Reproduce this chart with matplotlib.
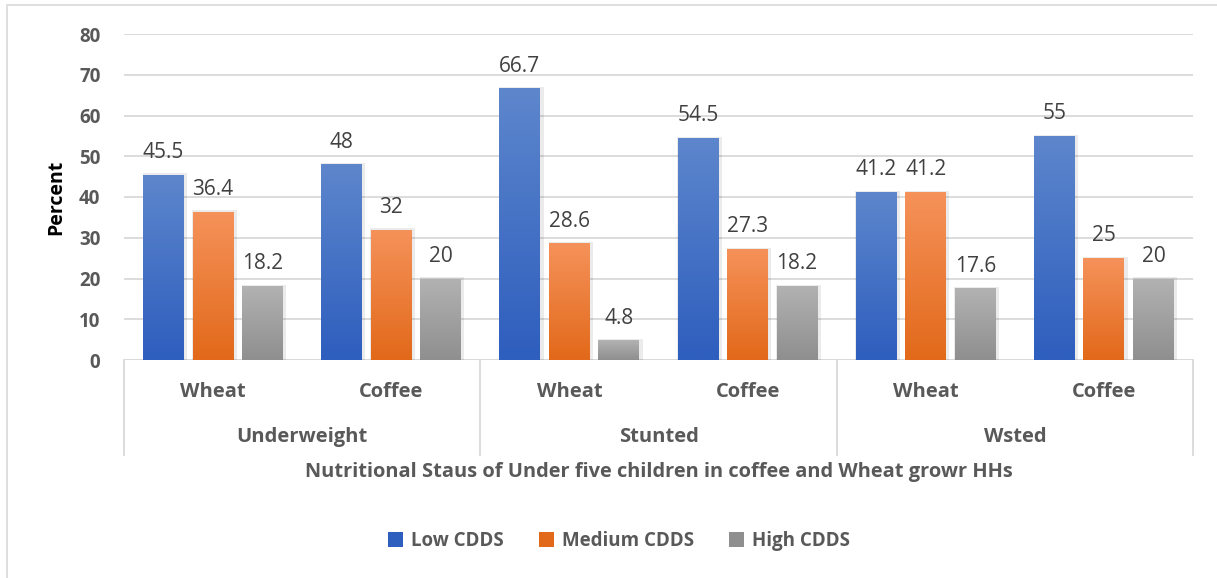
import numpy as np
import matplotlib.pyplot as plt
from matplotlib.colors import LinearSegmentedColormap
from matplotlib.patches import Rectangle

plt.rcParams['font.family'] = ['Open Sans', 'DejaVu Sans']

groups = ['Underweight', 'Stunted', 'Wsted']
crops = ['Wheat', 'Coffee', 'Wheat', 'Coffee', 'Wheat', 'Coffee']
series = ['Low CDDS', 'Medium CDDS', 'High CDDS']
low = [45.5, 48, 66.7, 54.5, 41.2, 55]
medium = [36.4, 32, 28.6, 27.3, 41.2, 25]
high = [18.2, 20, 4.8, 18.2, 17.6, 20]

# top / bottom colours of each series gradient
grads = [('#5D86CC', '#2E5EBE'), ('#F5925A', '#E2691A'), ('#B2B2B2', '#8F8F8F')]
txt = '#595959'

fig = plt.figure(figsize=(12.17, 5.78), dpi=100)
ax = fig.add_axes([124/1217, 1-360/578, (1193-124)/1217, 326/578])

# thin frame round the whole chart
fig.patches.append(Rectangle((7/1217, -0.01), 1.02, 1-5/578+0.01, transform=fig.transFigure,
                             fill=False, edgecolor='#D9D9D9', lw=1.2, zorder=0))

x = np.arange(len(crops))
w = 0.23
step = 0.278
for i, (vals, (c_top, c_bot)) in enumerate(zip([low, medium, high], grads)):
    pos = x + (i-1)*step
    bars = ax.bar(pos, vals, w, color=c_bot, label=series[i], zorder=3)
    cmap = LinearSegmentedColormap.from_list('g%d' % i, [c_bot, c_top])
    for b, v in zip(bars, vals):
        # soft shadow behind the bar
        ax.bar(b.get_x()+b.get_width()/2+0.008, v+0.3, w+0.02, color='#000000', alpha=0.08, zorder=2)
        im = ax.imshow(np.linspace(0, 1, 100).reshape(-1, 1), cmap=cmap, aspect='auto',
                       extent=[b.get_x(), b.get_x()+b.get_width(), 0, v], origin='lower', zorder=3)
        im.set_clip_path(b)
        ax.annotate('%g' % v, (b.get_x()+b.get_width()/2, v), xytext=(0, 12),
                    textcoords='offset points', ha='center', va='baseline',
                    fontsize=15, color='#404040')

ax.set_xlim(-0.5, 5.5)
ax.set_ylim(0, 80)
ax.set_yticks(range(0, 81, 10))
ax.grid(axis='y', color='#D9D9D9', lw=1.3, zorder=0)
for s in ax.spines.values():
    s.set_visible(False)
ax.axhline(0, color='#D9D9D9', lw=1.3, zorder=1)
ax.tick_params(axis='y', length=0, pad=17, labelsize=13.5, labelcolor=txt)
for t in ax.get_yticklabels():
    t.set_fontweight('bold')
ax.set_xticks(x)
ax.set_xticklabels(crops, fontsize=14.5, fontweight='bold', color=txt)
ax.tick_params(axis='x', length=0, pad=16)

# second level of the category axis
trans = ax.get_xaxis_transform()
for xs in [-0.5, 1.5, 3.5, 5.5]:
    ax.plot([xs, xs], [0, -0.29], color='#D9D9D9', lw=1.3, transform=trans, clip_on=False)
for k, g in enumerate(groups):
    ax.text(2*k+0.5, -0.237, g, transform=trans, ha='center', va='center',
            fontsize=14.5, fontweight='bold', color=txt)

ax.set_ylabel('Percent', fontsize=14, fontweight='bold', color='black', labelpad=9)
ax.text(0.5, -0.345, 'Nutritional Staus of Under five children in coffee and Wheat growr HHs',
        transform=ax.transAxes, ha='center', va='center', fontsize=14.4, fontweight='bold', color=txt)

leg = fig.legend(loc='center', bbox_to_anchor=(619/1217, 1-541/578), ncol=3, frameon=False,
                 fontsize=13.5, handlelength=0.8, handleheight=0.8, columnspacing=1.9, handletextpad=0.4)
for t in leg.get_texts():
    t.set_fontweight('bold')
    t.set_color(txt)

fig.savefig('out.png', dpi=100)
